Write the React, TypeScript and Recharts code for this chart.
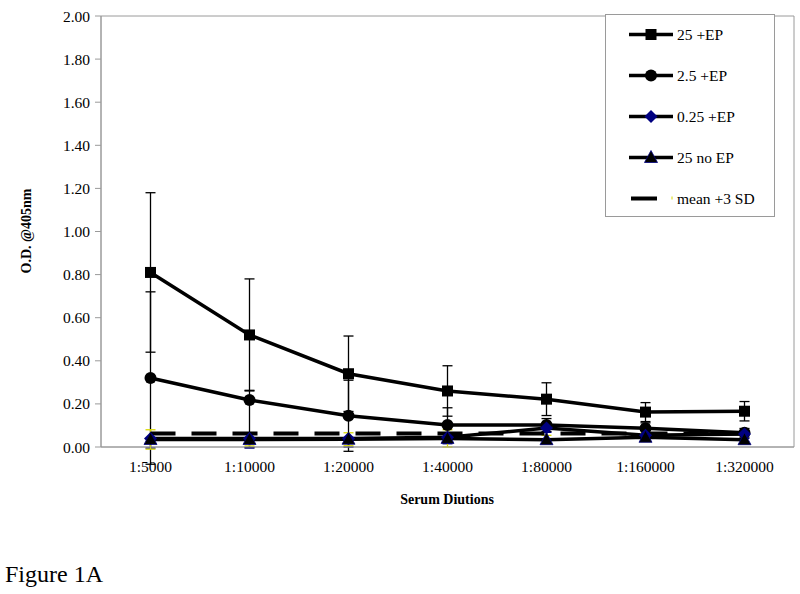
import React from 'react'
import { LineChart, Line, XAxis, YAxis, ErrorBar, Legend, ReferenceArea } from 'recharts'

const categories = ['1:5000', '1:10000', '1:20000', '1:40000', '1:80000', '1:160000', '1:320000']
const yTicks = [0, 0.2, 0.4, 0.6, 0.8, 1.0, 1.2, 1.4, 1.6, 1.8, 2.0]
const boundaryTicks = [0, 1, 2, 3, 4, 5, 6, 7]

// series values (O.D. @405nm)
const ep25 = [0.81, 0.52, 0.34, 0.26, 0.222, 0.162, 0.166]
const ep25Err = [[0.37, 0.37], [0.26, 0.26], [0.175, 0.175], [0.117, 0.117], [0.076, 0.076], [0.044, 0.044], [0.045, 0.045]]
const ep2_5 = [0.32, 0.218, 0.145, 0.102, 0.102, 0.087, 0.066]
const ep2_5Err = [[0.4, 0.4], [0.22, 0.045], [0.165, 0.165], [0.08, 0.08], [0.03, 0.03], [0.025, 0.025], [0.02, 0.02]]
const ep0_25 = [0.04, 0.04, 0.04, 0.045, 0.088, 0.055, 0.06]
const ep0_25Err = [[0.045, 0], [0.045, 0], [0.04, 0], [0.03, 0], [0.02, 0], [0.02, 0], [0.02, 0]]
const noEp25 = [0.035, 0.035, 0.036, 0.04, 0.034, 0.045, 0.034]
const noEp25Err = [[0.045, 0.045], [0.03, 0.03], [0.03, 0.03], [0.04, 0.04], [0.02, 0.02], [0.02, 0.02], [0.02, 0.02]]
const mean3sd = [0.063, 0.063, 0.063, 0.063, 0.063, 0.063, 0.063]

const data = categories.map((c, i) => ({
  x: i + 0.5,
  cat: c,
  ep25: ep25[i],
  ep25Err: ep25Err[i],
  ep2_5: ep2_5[i],
  ep2_5Err: ep2_5Err[i],
  ep0_25: ep0_25[i],
  ep0_25Err: ep0_25Err[i],
  noEp25: noEp25[i],
  noEp25Err: noEp25Err[i],
  mean: mean3sd[i],
}))

const FONT = '"Liberation Serif", "Times New Roman", serif'
const AXIS = '#9a9a9a'
const NAVY = '#000080'

type Shape = 'square' | 'circle' | 'diamond' | 'triangle'

function marker(shape: Shape, cx: number, cy: number, key?: string | number) {
  if (shape === 'square') return <rect key={key} x={cx - 5.5} y={cy - 5.5} width={11} height={11} fill="#000" />
  if (shape === 'circle') return <circle key={key} cx={cx} cy={cy} r={6} fill="#000" />
  if (shape === 'diamond')
    return <polygon key={key} points={`${cx},${cy - 6.5} ${cx + 6.5},${cy} ${cx},${cy + 6.5} ${cx - 6.5},${cy}`} fill={NAVY} />
  return (
    <polygon key={key} points={`${cx},${cy - 7} ${cx + 6.5},${cy + 5} ${cx - 6.5},${cy + 5}`} fill="#000" stroke={NAVY} strokeWidth={0.8} />
  )
}

const dotFor = (shape: Shape) => (props: any) => {
  const { cx, cy, index } = props
  if (cx == null || cy == null) return <g key={index} />
  return marker(shape, cx, cy, index)
}

const legendItems: { name: string; shape: Shape | null }[] = [
  { name: '25 +EP', shape: 'square' },
  { name: '2.5 +EP', shape: 'circle' },
  { name: '0.25 +EP', shape: 'diamond' },
  { name: '25 no EP', shape: 'triangle' },
  { name: 'mean +3 SD', shape: null },
]

function LegendBox() {
  return (
    <div style={{ width: 170, height: 203, border: `1px solid ${AXIS}`, background: '#fff', boxSizing: 'border-box' }}>
      <svg width={168} height={201}>
        {legendItems.map((it, i) => {
          const y = 19.5 + i * 41
          return (
            <g key={it.name}>
              {it.shape ? (
                <line x1={23} y1={y} x2={67} y2={y} stroke="#000" strokeWidth={3.5} />
              ) : (
                <>
                  <line x1={25} y1={y} x2={51} y2={y} stroke="#000" strokeWidth={4} />
                  <line x1={66} y1={y - 2} x2={66} y2={y + 1} stroke="#d8d800" strokeWidth={1} />
                </>
              )}
              {it.shape && marker(it.shape, 45, y)}
              <text x={71} y={y + 5} fontFamily={FONT} fontSize={15.5} fill="#000">
                {it.name}
              </text>
            </g>
          )
        })}
      </svg>
    </div>
  )
}

export default function App() {
  return (
    <div style={{ position: 'absolute', left: 0, top: 0, width: 800, height: 594, background: '#fff' }}>
      <LineChart width={800} height={594} data={data} margin={{ top: 16, right: 6, left: 0, bottom: 87 }}>
        <XAxis
          xAxisId="bnd"
          type="number"
          domain={[0, 7]}
          ticks={boundaryTicks}
          allowDataOverflow
          height={0}
          axisLine={false}
          tick={false}
          tickSize={5}
          tickLine={{ stroke: AXIS }}
        />
        <XAxis
          xAxisId="cat"
          dataKey="x"
          type="number"
          domain={[0, 7]}
          ticks={data.map((d) => d.x)}
          allowDataOverflow
          tickFormatter={(v: number) => categories[Math.floor(v)]}
          tickLine={false}
          tickSize={6}
          tickMargin={8}
          height={60}
          axisLine={{ stroke: AXIS }}
          tick={{ fontFamily: FONT, fontSize: 15.5, fill: '#000' }}
          label={{
            content: () => (
              <text x={447} y={504} textAnchor="middle" fontFamily={FONT} fontSize={14} fontWeight="bold" fill="#000">
                Serum Diutions
              </text>
            ),
          }}
        />
        <YAxis
          domain={[0, 2]}
          ticks={yTicks}
          allowDataOverflow
          width={101}
          tickSize={6}
          tickMargin={5}
          tickFormatter={(v: number) => v.toFixed(2)}
          axisLine={{ stroke: AXIS }}
          tickLine={{ stroke: AXIS }}
          tick={{ fontFamily: FONT, fontSize: 15.5, fill: '#000' }}
          label={{
            content: () => (
              <text
                x={31}
                y={231}
                transform="rotate(-90 31 231)"
                textAnchor="middle"
                fontFamily={FONT}
                fontSize={14}
                fontWeight="bold"
                fill="#000"
              >
                O.D. @405nm
              </text>
            ),
          }}
        />
        <ReferenceArea xAxisId="cat" x1={0} x2={7} y1={0} y2={2} fill="none" stroke={AXIS} strokeWidth={1} ifOverflow="visible" />
        <Legend
          layout="horizontal"
          verticalAlign="middle"
          align="center"
          content={() => <LegendBox />}
          wrapperStyle={{ position: 'absolute', left: 605, top: 14, width: 170, height: 203 }}
        />
        <Line xAxisId="cat" name="25 +EP" dataKey="ep25" stroke="#000" strokeWidth={3.5} dot={dotFor('square')} activeDot={false} isAnimationActive={false}>
          <ErrorBar dataKey="ep25Err" direction="y" width={5} stroke="#000" strokeWidth={1.3} />
        </Line>
        <Line xAxisId="cat" name="2.5 +EP" dataKey="ep2_5" stroke="#000" strokeWidth={3.5} dot={dotFor('circle')} activeDot={false} isAnimationActive={false}>
          <ErrorBar dataKey="ep2_5Err" direction="y" width={5} stroke="#000" strokeWidth={1.3} />
        </Line>
        <Line xAxisId="cat" name="0.25 +EP" dataKey="ep0_25" stroke="#000" strokeWidth={3.5} dot={dotFor('diamond')} activeDot={false} isAnimationActive={false}>
          <ErrorBar dataKey="ep0_25Err" direction="y" width={5} stroke={NAVY} strokeWidth={1.3} />
        </Line>
        <Line xAxisId="cat" name="25 no EP" dataKey="noEp25" stroke="#000" strokeWidth={3.5} dot={dotFor('triangle')} activeDot={false} isAnimationActive={false}>
          <ErrorBar dataKey="noEp25Err" direction="y" width={5} stroke="#d8d800" strokeWidth={1.3} />
        </Line>
        <Line xAxisId="cat" name="mean +3 SD" dataKey="mean" stroke="#000" strokeWidth={4} strokeDasharray="25 16" dot={false} activeDot={false} isAnimationActive={false} />
      </LineChart>
      <div style={{ position: 'absolute', left: 5, top: 561, fontFamily: FONT, fontSize: 24, color: '#000', lineHeight: 'normal' }}>
        Figure 1A
      </div>
    </div>
  )
}
